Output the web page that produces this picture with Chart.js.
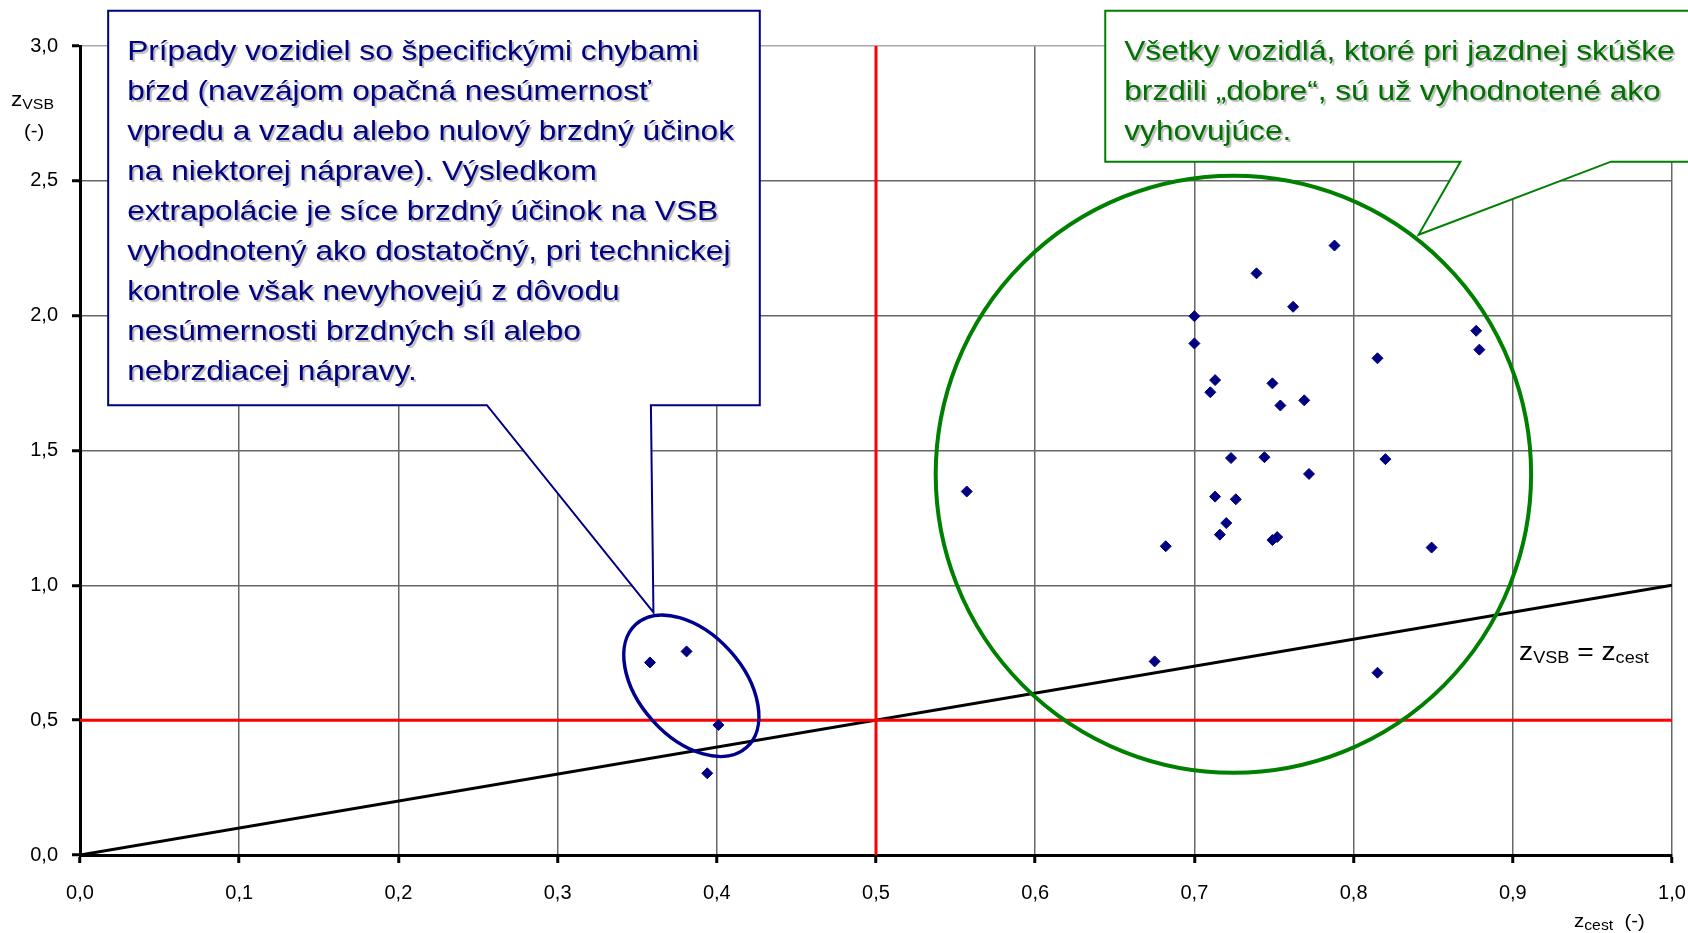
<!DOCTYPE html>
<html>
<head>
<meta charset="utf-8">
<script src="https://cdn.jsdelivr.net/npm/chart.js@4/dist/chart.umd.min.js"></script>
<style>
html, body { margin: 0; padding: 0; background: #fff; }
canvas { display: block; }
</style>
</head>
<body>
<canvas id="graf" width="1688" height="933"></canvas>
<script>
// namerane hodnoty (z_cest, z_VSB)
const zCest = [0.358, 0.381, 0.401, 0.394, 0.557, 0.675, 0.815, 0.788,
               0.739, 0.762, 0.700, 0.700, 0.877, 0.879, 0.815, 0.713,
               0.710, 0.749, 0.754, 0.769, 0.723, 0.744, 0.820, 0.772,
               0.713, 0.726, 0.720, 0.716, 0.749, 0.752, 0.682, 0.849];
const zVsb  = [0.714, 0.755, 0.482, 0.303, 1.348, 0.718, 0.676, 2.260,
               2.157, 2.033, 1.998, 1.897, 1.944, 1.874, 1.842, 1.761,
               1.716, 1.749, 1.667, 1.686, 1.472, 1.475, 1.468, 1.413,
               1.329, 1.319, 1.231, 1.188, 1.168, 1.179, 1.145, 1.140];

const limit = 0.5;          // hranica (cervene ciary)
const lineX = [0, 1];       // z_VSB = z_cest
const lineY = [0, 1];
const xRange = [0, 1];
const yRange = [0, 3];

const textBlue = [
    'Prípady vozidiel so špecifickými chybami',
    'bŕzd (navzájom opačná nesúmernosť',
    'vpredu a vzadu alebo nulový brzdný účinok',
    'na niektorej náprave). Výsledkom',
    'extrapolácie je síce brzdný účinok na VSB',
    'vyhodnotený ako dostatočný, pri technickej',
    'kontrole však nevyhovejú z dôvodu',
    'nesúmernosti brzdných síl alebo',
    'nebrzdiacej nápravy.'
];
const textGreen = [
    'Všetky vozidlá, ktoré pri jazdnej skúške',
    'brzdili „dobre“, sú už vyhodnotené ako',
    'vyhovujúce.'
];

const FONT = "'Liberation Sans', Arial, sans-serif";
const navy = '#000080';
const green = '#008000';
const stretch = 1.13;   // povodny obrazok je roztiahnuty do sirky

const points = zCest.map((x, i) => ({x: x, y: zVsb[i]}));
const fmt = v => Number(v).toFixed(1).replace('.', ',');

// text s indexmi, parts = [[text, velkost, posun]]
function richText(ctx, parts, x, y, color) {
    ctx.save();
    ctx.translate(x, y);
    ctx.scale(stretch, 1);
    ctx.fillStyle = color;
    ctx.textBaseline = 'alphabetic';
    let cx = 0;
    parts.forEach(p => {
        ctx.font = p[1] + 'px ' + FONT;
        ctx.fillText(p[0], cx, p[2] || 0);
        cx += ctx.measureText(p[0]).width;
    });
    ctx.restore();
}

function callout(chart, box, ptr, color, lines, textColor) {
    const ctx = chart.ctx;
    const sx = chart.scales.x, sy = chart.scales.y;
    const l = sx.getPixelForValue(box.l), r = sx.getPixelForValue(box.r);
    const t = sy.getPixelForValue(box.t), b = sy.getPixelForValue(box.b);
    ctx.save();
    ctx.beginPath();
    ctx.moveTo(l, t);
    ctx.lineTo(r, t);
    ctx.lineTo(r, b);
    ctx.lineTo(sx.getPixelForValue(ptr.x2), b);
    ctx.lineTo(sx.getPixelForValue(ptr.tx), sy.getPixelForValue(ptr.ty));
    ctx.lineTo(sx.getPixelForValue(ptr.x1), b);
    ctx.lineTo(l, b);
    ctx.closePath();
    ctx.fillStyle = '#fff';
    ctx.fill();
    ctx.strokeStyle = color;
    ctx.lineWidth = 2;
    ctx.stroke();

    ctx.font = '28px ' + FONT;
    ctx.textBaseline = 'alphabetic';
    ctx.fillStyle = textColor;
    ctx.shadowColor = 'rgba(0,0,0,0.28)';
    ctx.shadowOffsetX = 2;
    ctx.shadowOffsetY = 2;
    ctx.shadowBlur = 1;
    lines.forEach((s, i) => {
        ctx.save();
        ctx.translate(l + 19, t + 49 + i * 40);
        ctx.scale(stretch, 1);
        ctx.fillText(s, 0, 0);
        ctx.restore();
    });
    ctx.restore();
}

const anotacie = {
    id: 'anotacie',
    afterDatasetsDraw(chart) {
        const ctx = chart.ctx;
        const sx = chart.scales.x, sy = chart.scales.y;
        const ux = sx.getPixelForValue(1) - sx.getPixelForValue(0);
        const uy = sy.getPixelForValue(0) - sy.getPixelForValue(1);

        // modra elipsa
        ctx.save();
        ctx.beginPath();
        ctx.ellipse(sx.getPixelForValue(0.384), sy.getPixelForValue(0.6275),
                    0.052 * ux, 0.0327 * ux, 48 * Math.PI / 180, 0, 2 * Math.PI);
        ctx.strokeStyle = '#000090';
        ctx.lineWidth = 3.5;
        ctx.stroke();

        // zelena kruznica
        ctx.beginPath();
        ctx.ellipse(sx.getPixelForValue(0.7245), sy.getPixelForValue(1.412),
                    0.187 * ux, 1.107 * uy, 0, 0, 2 * Math.PI);
        ctx.strokeStyle = green;
        ctx.lineWidth = 4;
        ctx.stroke();
        ctx.restore();

        callout(chart, {l: 0.0177, r: 0.427, t: 3.131, b: 1.668},
                {x1: 0.2556, x2: 0.3586, tx: 0.3602, ty: 0.8996},
                navy, textBlue, navy);
        callout(chart, {l: 0.644, r: 1.03, t: 3.131, b: 2.571},
                {x1: 0.8671, x2: 0.9617, tx: 0.8408, ty: 2.30},
                green, textGreen, '#007000');

        // popis priamky
        richText(ctx, [['z', 25], ['VSB', 16, 3], [' = z', 25], ['cest', 16, 3]],
                 1519, 660, '#000');

        // nazvy osi
        richText(ctx, [['z', 20], ['VSB', 14, 3]], 11, 106, '#000');
        richText(ctx, [['(-)', 18]], 24, 137, '#000');
        richText(ctx, [['z', 18], ['cest', 14, 3], ['  (-)', 18]], 1574, 927, '#000');
    }
};

const ctx = document.getElementById('graf').getContext('2d');

const chart = new Chart(ctx, {
    type: 'scatter',
    data: {
        datasets: [{
            data: points,
            pointStyle: 'rectRot',
            pointRadius: 5.5,
            backgroundColor: navy,
            borderColor: navy,
            borderWidth: 1,
            order: 0
        }, {
            type: 'line',
            data: [{x: xRange[0], y: limit}, {x: xRange[1], y: limit}],
            borderColor: '#ff0000',
            borderWidth: 3,
            pointRadius: 0,
            order: 1
        }, {
            type: 'line',
            data: [{x: limit, y: yRange[0]}, {x: limit, y: yRange[1]}],
            borderColor: '#ff0000',
            borderWidth: 3,
            pointRadius: 0,
            order: 1
        }, {
            type: 'line',
            data: lineX.map((x, i) => ({x: x, y: lineY[i]})),
            borderColor: '#000',
            borderWidth: 3,
            pointRadius: 0,
            order: 2
        }]
    },
    options: {
        responsive: false,
        animation: false,
        devicePixelRatio: 1,
        layout: { padding: { top: 46, right: 16, left: 0, bottom: 0 } },
        plugins: {
            legend: { display: false },
            tooltip: { enabled: false }
        },
        scales: {
            x: {
                type: 'linear',
                min: xRange[0],
                max: xRange[1],
                afterFit: s => { s.height = 78; s.paddingLeft = 0; s.paddingRight = 0; },
                ticks: {
                    stepSize: 0.1,
                    callback: fmt,
                    color: '#000',
                    padding: 18,
                    font: { family: FONT, size: 20 }
                },
                grid: {
                    color: '#666',
                    lineWidth: 1.5,
                    tickColor: '#000',
                    tickWidth: 3,
                    tickLength: 8
                },
                border: { color: '#000', width: 3 }
            },
            y: {
                min: yRange[0],
                max: yRange[1],
                afterFit: s => { s.width = 80; s.paddingTop = 0; s.paddingBottom = 0; },
                ticks: {
                    stepSize: 0.5,
                    callback: fmt,
                    color: '#000',
                    padding: 14,
                    font: { family: FONT, size: 20 }
                },
                grid: {
                    color: c => (c.tick && c.tick.value === 3) ? '#aaa' : '#666',
                    lineWidth: 1.5,
                    tickColor: '#000',
                    tickWidth: 3,
                    tickLength: 8
                },
                border: { color: '#000', width: 3 }
            }
        }
    },
    plugins: [anotacie]
});
</script>
</body>
</html>
